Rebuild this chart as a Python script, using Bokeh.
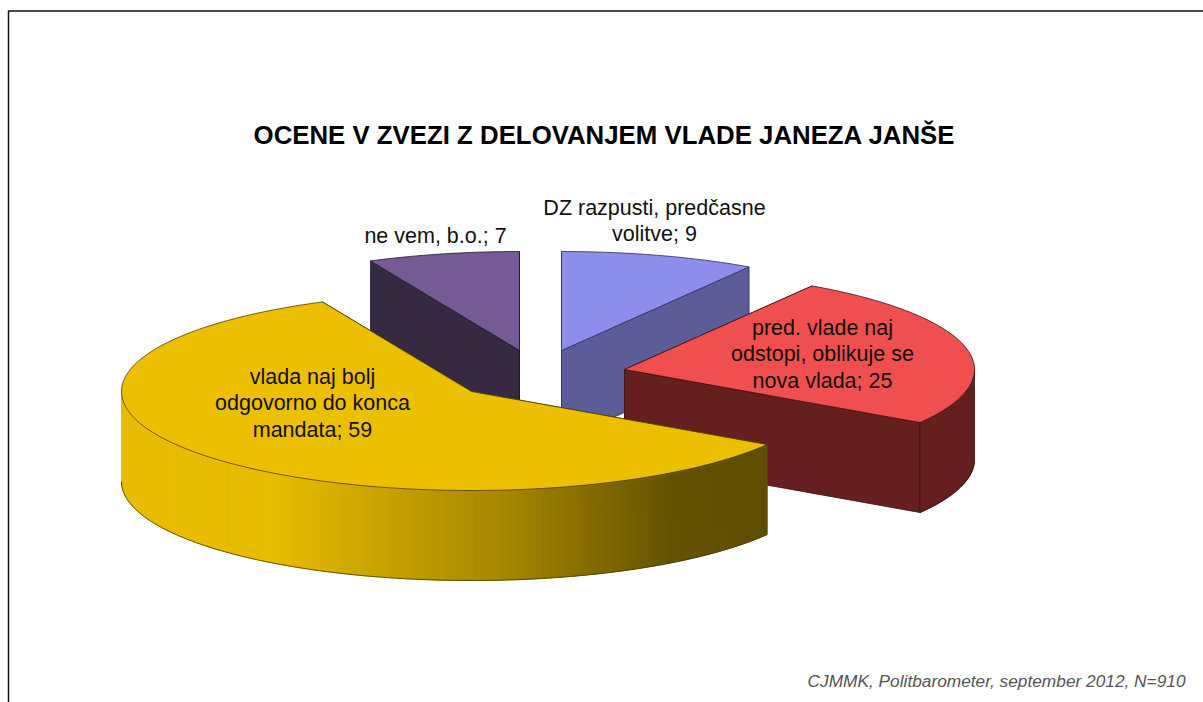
import math
from bokeh.plotting import figure
from bokeh.embed import file_html
from bokeh.resources import INLINE
from bokeh.core.properties import value

title = "OCENE V ZVEZI Z DELOVANJEM VLADE JANEZA JANŠE"
credit = "CJMMK, Politbarometer, september 2012, N=910"
categories = ["DZ razpusti, predčasne volitve", "pred. vlade naj odstopi, oblikuje se nova vlada",
              "vlada naj bolj odgovorno do konca mandata", "ne vem, b.o."]
shares = [9, 25, 59, 7]
label_lines = [["DZ razpusti, predčasne", "volitve; 9"],
               ["pred. vlade naj", "odstopi, oblikuje se", "nova vlada; 25"],
               ["vlada naj bolj", "odgovorno do konca", "mandata; 59"],
               ["ne vem, b.o.; 7"]]

# layout and style (page pixels)
W, H = 1203, 702
RX, RY, DEPTH = 350, 99, 90
apex = [(561, 350), (624, 369), (471, 391), (519, 350)]
label_pos = [(654, 207), (822, 327), (312, 376), (435, 235)]
top_col = ["#8D8DEB", "#EF4F4F", "#ECC000", "#755A96"]
side_col = ["#5C5C99", "#661F1F", "#665300", "#352A42"]
edge_col = ["#2B2B66", "#401010", "#4A3C00", "#1E1628"]
draw_order = [3, 0, 1, 2]
grad = [(122, (232, 188, 0)), (270, (232, 188, 0)), (500, (166, 136, 0)), (670, (101, 82, 0)), (770, (95, 77, 0))]


def grad_colour(x):
    for (x0, c0), (x1, c1) in zip(grad, grad[1:]):
        if x <= x1:
            t = max(0, (x - x0) / (x1 - x0))
            return "#%02x%02x%02x" % tuple(round(a + (b - a) * t) for a, b in zip(c0, c1))
    return "#%02x%02x%02x" % grad[-1][1]


def rim(i, deg):
    a = math.radians(deg)
    return apex[i][0] + RX * math.sin(a), apex[i][1] - RY * math.cos(a)


p = figure(width=W, height=H, x_range=(0, W), y_range=(H, 0), output_backend="svg",
           toolbar_location=None, min_border=0, outline_line_color=None, background_fill_color="white")
p.axis.visible = False
p.grid.visible = False

# frame of the slide
p.line([8, 8, W], [H, 10.5, 10.5], line_color="#111111", line_width=1.5)

total = sum(shares)
starts, run = [], 0
for s in shares:
    starts.append(run * 360 / total)
    run += s

for i in draw_order:
    t0, t1 = starts[i], starts[i] + shares[i] * 360 / total
    ax, ay = apex[i]
    # radial cut faces
    for t in (t0, t1):
        rx, ry = rim(i, t)
        p.patch([ax, rx, rx, ax], [ay, ry, ry + DEPTH, ay + DEPTH],
                fill_color=side_col[i], line_color=edge_col[i], line_width=0.8)
    # outer wall, front half only
    f0, f1 = max(t0, 90), min(t1, 270)
    if f1 > f0:
        n = max(2, int((f1 - f0) / 1.0))
        degs = [f0 + (f1 - f0) * k / n for k in range(n + 1)]
        pts = [rim(i, d) for d in degs]
        if i == 2:
            xs, ys, cols = [], [], []
            for (x0, y0), (x1, y1) in zip(pts, pts[1:]):
                xs.append([x0, x1, x1, x0])
                ys.append([y0, y1, y1 + DEPTH, y0 + DEPTH])
                cols.append(grad_colour((x0 + x1) / 2))
            p.patches(xs, ys, fill_color=cols, line_color=cols, line_width=1)
        else:
            p.patch([q[0] for q in pts] + [q[0] for q in reversed(pts)],
                    [q[1] for q in pts] + [q[1] + DEPTH for q in reversed(pts)],
                    fill_color=side_col[i], line_color=edge_col[i], line_width=0.8)
        p.line([q[0] for q in pts], [q[1] + DEPTH for q in pts], line_color=edge_col[i], line_width=0.8)
    # top face
    n = max(2, int(t1 - t0))
    pts = [rim(i, t0 + (t1 - t0) * k / n) for k in range(n + 1)]
    p.patch([ax] + [q[0] for q in pts], [ay] + [q[1] for q in pts],
            fill_color=top_col[i], line_color=edge_col[i], line_width=0.8)

# labels
for lines, (lx, ly) in zip(label_lines, label_pos):
    p.text([lx] * len(lines), [ly + 26.7 * k for k in range(len(lines))], text=lines,
           text_font=value("Liberation Sans"), text_font_size="21.5px", text_color="#111111",
           text_align="center", text_baseline="middle")

p.text([604], [134], text=[title], text_font=value("Liberation Sans"), text_font_size="25.8px",
       text_font_style="bold", text_color="#000000", text_align="center", text_baseline="middle")
p.text([1185], [680], text=[credit], text_font=value("Liberation Sans"), text_font_size="17.3px",
       text_font_style="italic", text_color="#555555", text_align="right", text_baseline="middle")

open("out.html", "w").write(file_html(p, INLINE))
